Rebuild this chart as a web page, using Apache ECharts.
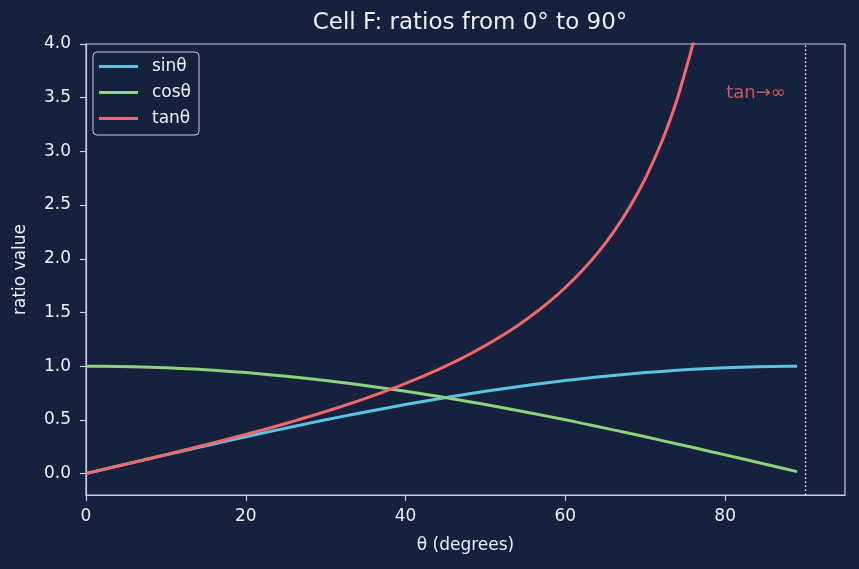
<!DOCTYPE html>
<html>
<head>
<meta charset="utf-8">
<script src="https://cdn.jsdelivr.net/npm/echarts@6/dist/echarts.min.js"></script>
<style>
html,body{margin:0;padding:0;background:#16213e;}
#chart{width:859px;height:569px;}
</style>
</head>
<body>
<div id="chart"></div>
<script>
// theta in degrees
const thetaDeg = [0,2,4,6,8,10,12,14,16,18,20,22,24,26,28,30,32,34,36,38,40,42,44,46,48,50,52,54,56,58,60,62,64,66,68,70,72,74,76,78,80,82,84,86,88,89];
const sinVals = [0,0.0349,0.0698,0.1045,0.1392,0.1736,0.2079,0.2419,0.2756,0.3090,0.3420,0.3746,0.4067,0.4384,0.4695,0.5,0.5299,0.5592,0.5878,0.6157,0.6428,0.6691,0.6947,0.7193,0.7431,0.7660,0.7880,0.8090,0.8290,0.8480,0.8660,0.8829,0.8988,0.9135,0.9272,0.9397,0.9511,0.9613,0.9703,0.9781,0.9848,0.9903,0.9945,0.9976,0.9994,0.9998];
const cosVals = [1,0.9994,0.9976,0.9945,0.9903,0.9848,0.9781,0.9703,0.9613,0.9511,0.9397,0.9272,0.9135,0.8988,0.8829,0.8660,0.8480,0.8290,0.8090,0.7880,0.7660,0.7431,0.7193,0.6947,0.6691,0.6428,0.6157,0.5878,0.5592,0.5299,0.5,0.4695,0.4384,0.4067,0.3746,0.3420,0.3090,0.2756,0.2419,0.2079,0.1736,0.1392,0.1045,0.0698,0.0349,0.0175];
const tanVals = [0,0.0349,0.0699,0.1051,0.1405,0.1763,0.2126,0.2493,0.2867,0.3249,0.3640,0.4040,0.4452,0.4877,0.5317,0.5774,0.6249,0.6745,0.7265,0.7813,0.8391,0.9004,0.9657,1.0355,1.1106,1.1918,1.2799,1.3764,1.4826,1.6003,1.7321,1.8807,2.0503,2.2460,2.4751,2.7475,3.0777,3.4874,4.0108,4.7046,5.6713,7.1154,9.5144,14.3007,28.6363,57.29];
const seriesNames = ['sinθ','cosθ','tanθ'];
const xTicks = [0,20,40,60,80];
const yTicks = [0,0.5,1,1.5,2,2.5,3,3.5,4];
const asymptoteX = 90;
const noteText = 'tan→∞';
const notePos = [80, 3.5];

const pair = (vals) => thetaDeg.map((t, i) => [t, vals[i]]);

const bg = '#16213e';
const axisCol = '#c9cce4';
const textCol = '#eceef6';
const colors = ['#5bc4df', '#8cd37a', '#f1696b'];
const fontFam = 'DejaVu Sans';

const chart = echarts.init(document.getElementById('chart'), null, {renderer: 'canvas'});
chart.setOption({
  backgroundColor: bg,
  animation: false,
  title: {
    text: 'Cell F: ratios from 0° to 90°',
    left: 465, top: 7, textAlign: 'center',
    textStyle: {color: textCol, fontSize: 23, fontWeight: 'normal', fontFamily: fontFam}
  },
  legend: {
    data: seriesNames,
    orient: 'vertical',
    left: 93, top: 52,
    padding: [6, 8, 8, 6],
    itemGap: 9,
    itemWidth: 39, itemHeight: 3,
    icon: 'rect',
    backgroundColor: bg,
    borderColor: axisCol, borderWidth: 1, borderRadius: 4,
    textStyle: {color: textCol, fontSize: 17, fontFamily: fontFam, padding: [0, 0, 0, 9]}
  },
  grid: {
    left: 86, right: 14, top: 44, bottom: 74,
    show: true, borderColor: axisCol, borderWidth: 1.2, backgroundColor: 'transparent'
  },
  xAxis: {
    type: 'value', min: 0, max: 95,
    name: 'θ (degrees)', nameLocation: 'middle', nameGap: 42,
    nameTextStyle: {color: textCol, fontSize: 17, fontFamily: fontFam},
    axisLine: {show: true, onZero: false, lineStyle: {color: axisCol, width: 1.2}},
    axisTick: {show: true, inside: false, length: 6, lineStyle: {color: axisCol, width: 1.2}, customValues: xTicks},
    axisLabel: {color: textCol, fontSize: 17, fontFamily: fontFam, margin: 13, customValues: xTicks},
    splitLine: {show: false}
  },
  yAxis: {
    type: 'value', min: -0.2, max: 4.0,
    name: 'ratio value', nameLocation: 'middle', nameGap: 57,
    nameTextStyle: {color: textCol, fontSize: 17, fontFamily: fontFam},
    axisLine: {show: true, onZero: false, lineStyle: {color: axisCol, width: 1.2}},
    axisTick: {show: true, inside: false, length: 6, lineStyle: {color: axisCol, width: 1.2}, customValues: yTicks},
    axisLabel: {color: textCol, fontSize: 17, fontFamily: fontFam, margin: 15, customValues: yTicks,
      formatter: (v) => v.toFixed(1)},
    splitLine: {show: false}
  },
  series: [
    {name: seriesNames[0], type: 'line', data: pair(sinVals), showSymbol: false, symbol: 'none',
      lineStyle: {color: colors[0], width: 3}, itemStyle: {color: colors[0]}, clip: true, z: 3},
    {name: seriesNames[1], type: 'line', data: pair(cosVals), showSymbol: false, symbol: 'none',
      lineStyle: {color: colors[1], width: 3}, itemStyle: {color: colors[1]}, clip: true, z: 3},
    {name: seriesNames[2], type: 'line', data: pair(tanVals), showSymbol: false, symbol: 'none', smooth: 0.15,
      lineStyle: {color: colors[2], width: 3}, itemStyle: {color: colors[2]}, clip: true, z: 4,
      markLine: {
        silent: true, symbol: 'none', animation: false,
        label: {show: false},
        lineStyle: {color: '#ffffff', width: 1.3, type: [1.5, 2.5]},
        data: [{xAxis: asymptoteX}]
      }},
    {name: 'note', type: 'scatter', data: [notePos], symbolSize: 0, silent: true, z: 5,
      label: {show: true, position: [0, 0], align: 'left', verticalAlign: 'bottom', offset: [1, 5],
        formatter: noteText, color: colors[2], fontSize: 18, fontFamily: fontFam}}
  ]
});
</script>
</body>
</html>
